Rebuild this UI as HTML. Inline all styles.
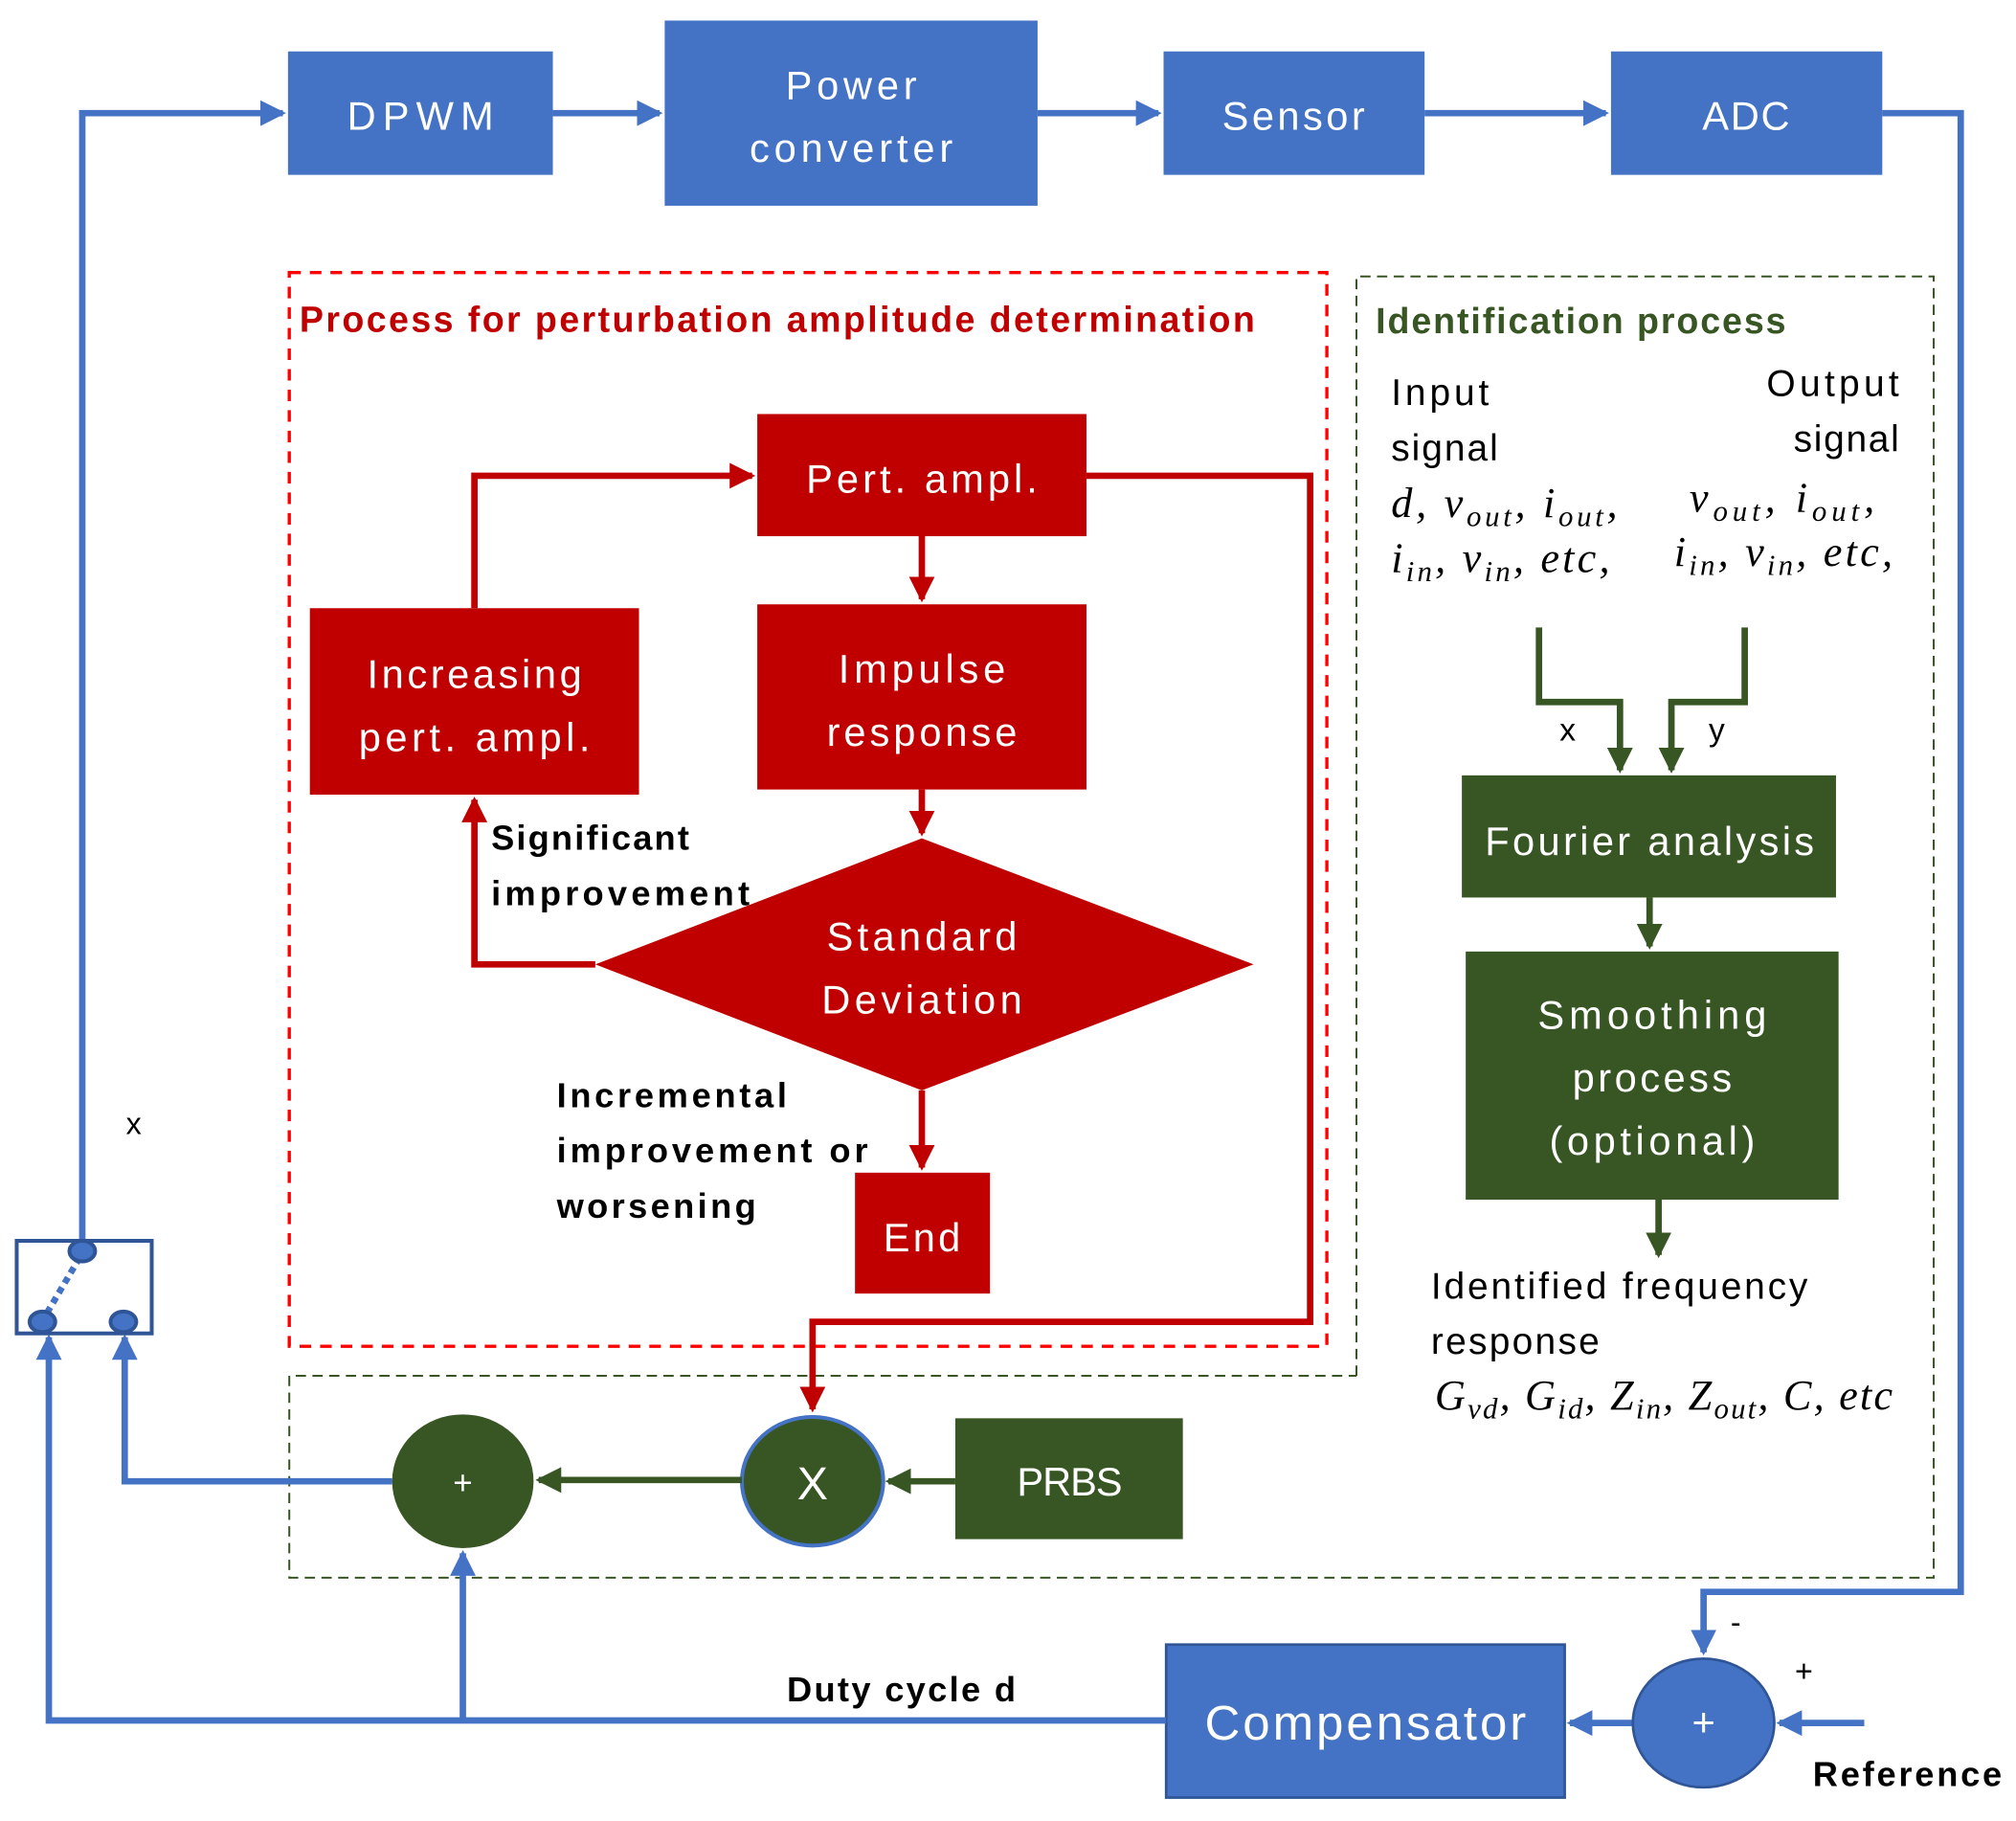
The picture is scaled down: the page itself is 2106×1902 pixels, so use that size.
<!DOCTYPE html>
<html><head><meta charset="utf-8"><style>
html,body{margin:0;padding:0;background:#fff}
svg{display:block}
text{font-family:"Liberation Sans",sans-serif}
.w{fill:#fff;font-size:31px}
.m{font-family:"Liberation Serif",serif;font-style:italic;font-size:33px;fill:#000}
.b{font-weight:bold;font-size:27px;fill:#000}
</style></head><body>
<svg width="2106" height="1902" viewBox="0 0 1568 1416.2" preserveAspectRatio="none" xmlns="http://www.w3.org/2000/svg">
<defs>
<marker id="ab" markerWidth="4" markerHeight="4" refX="3.5" refY="2" orient="auto" markerUnits="strokeWidth"><path d="M0,0L4,2L0,4z" fill="#4472C4"/></marker>
<marker id="ar" markerWidth="4" markerHeight="4" refX="3.5" refY="2" orient="auto" markerUnits="strokeWidth"><path d="M0,0L4,2L0,4z" fill="#C00000"/></marker>
<marker id="ag" markerWidth="4" markerHeight="4" refX="3.5" refY="2" orient="auto" markerUnits="strokeWidth"><path d="M0,0L4,2L0,4z" fill="#375623"/></marker>
</defs>
<rect x="225" y="212" width="807" height="835" fill="none" stroke="#FF0000" stroke-width="2.5" stroke-dasharray="9,7"/>
<path d="M1055,1070V215H1504V1227H225V1070H1055" fill="none" stroke="#375623" stroke-width="1.5" stroke-dasharray="8,5"/>
<g fill="#4472C4">
<rect x="224" y="40" width="206" height="96"/>
<rect x="517" y="16" width="290" height="144"/>
<rect x="905" y="40" width="203" height="96"/>
<rect x="1253" y="40" width="211" height="96"/>
<rect x="907" y="1279" width="310" height="119" stroke="#2F5597" stroke-width="2"/>
</g>
<g class="w" text-anchor="middle">
<text x="327" y="101" textLength="114">DPWM</text>
<text x="662" y="77" textLength="102">Power</text>
<text x="662" y="126" textLength="158">converter</text>
<text x="1006" y="101" textLength="111">Sensor</text>
<text x="1358" y="101" textLength="68">ADC</text>
<text x="1062" y="1353" font-size="38" textLength="250">Compensator</text>
</g>
<g fill="none" stroke="#4472C4" stroke-width="5">
<path d="M64,968V88H220" marker-end="url(#ab)"/>
<path d="M430,88H513" marker-end="url(#ab)"/>
<path d="M807,88H901" marker-end="url(#ab)"/>
<path d="M1108,88H1249" marker-end="url(#ab)"/>
<path d="M1464,88H1525V1238H1325V1285" marker-end="url(#ab)"/>
<path d="M1450,1340H1384" marker-end="url(#ab)"/>
<path d="M1270,1340H1221" marker-end="url(#ab)"/>
<path d="M907,1338H38V1040" marker-end="url(#ab)"/>
<path d="M360,1338V1208" marker-end="url(#ab)"/>
<path d="M305,1152H97V1040" marker-end="url(#ab)"/>
</g>
<rect x="13" y="965" width="105" height="72" fill="none" stroke="#2F5597" stroke-width="3"/>
<line x1="62" y1="978" x2="36" y2="1022" stroke="#4472C4" stroke-width="5" stroke-dasharray="5,4"/>
<g fill="#4472C4" stroke="#2F5597" stroke-width="3">
<ellipse cx="64" cy="973" rx="10" ry="8"/><ellipse cx="33" cy="1028" rx="10" ry="8"/><ellipse cx="96" cy="1028" rx="10" ry="8"/>
</g>
<text x="98" y="882" font-size="24">x</text>
<ellipse cx="1325" cy="1340" rx="55" ry="50" fill="#4472C4" stroke="#2F5597" stroke-width="2"/>
<text x="1325" y="1350" class="w" text-anchor="middle" font-size="26">+</text>
<text x="1346" y="1270" font-size="24">-</text>
<text x="1396" y="1308" font-size="24">+</text>
<text x="1410" y="1389" class="b" textLength="147">Reference</text>
<text x="612" y="1323" class="b" textLength="178">Duty cycle d</text>
<text x="233" y="258" font-size="28" font-weight="bold" fill="#C00000" textLength="743">Process for perturbation amplitude determination</text>
<g fill="#C00000">
<rect x="589" y="322" width="256" height="95"/>
<rect x="589" y="470" width="256" height="144"/>
<rect x="241" y="473" width="256" height="145"/>
<polygon points="463,750 717,652 975,750 717,848"/>
<rect x="665" y="912" width="105" height="94"/>
</g>
<g class="w" text-anchor="middle">
<text x="717" y="383" textLength="180">Pert. ampl.</text>
<text x="717" y="531" textLength="130">Impulse</text>
<text x="717" y="580" textLength="148">response</text>
<text x="369" y="535" textLength="167">Increasing</text>
<text x="369" y="584" textLength="180">pert. ampl.</text>
<text x="717" y="739" textLength="148">Standard</text>
<text x="717" y="788" textLength="156">Deviation</text>
<text x="717" y="973" textLength="60">End</text>
</g>
<g fill="none" stroke="#C00000" stroke-width="5">
<path d="M369,473V370H585" marker-end="url(#ar)"/>
<path d="M717,417V466" marker-end="url(#ar)"/>
<path d="M717,614V648" marker-end="url(#ar)"/>
<path d="M463,750H369V622" marker-end="url(#ar)"/>
<path d="M717,848V908" marker-end="url(#ar)"/>
<path d="M845,370H1019V1028H632V1096" marker-end="url(#ar)"/>
</g>
<text x="382" y="661" class="b" textLength="154">Significant</text>
<text x="382" y="704" class="b" textLength="201">improvement</text>
<text x="433" y="861" class="b" textLength="179">Incremental</text>
<text x="433" y="904" class="b" textLength="242">improvement or</text>
<text x="433" y="947" class="b" textLength="155">worsening</text>
<text x="1070" y="259" font-size="28" font-weight="bold" fill="#375623" textLength="319">Identification process</text>
<g font-size="29">
<text x="1082" y="315" textLength="76">Input</text>
<text x="1082" y="358" textLength="83">signal</text>
<text x="1477" y="308" text-anchor="end" textLength="103">Output</text>
<text x="1477" y="351" text-anchor="end" textLength="82">signal</text>
</g>
<text x="1082" y="402" class="m" textLength="176">d, v<tspan font-size="23" dy="7">out</tspan><tspan dy="-7">, i</tspan><tspan font-size="23" dy="7">out</tspan><tspan dy="-7">,</tspan></text>
<text x="1082" y="445" class="m" textLength="170">i<tspan font-size="23" dy="7">in</tspan><tspan dy="-7">, v</tspan><tspan font-size="23" dy="7">in</tspan><tspan dy="-7">, etc,</tspan></text>
<text x="1314" y="398" class="m" textLength="144">v<tspan font-size="23" dy="7">out</tspan><tspan dy="-7">, i</tspan><tspan font-size="23" dy="7">out</tspan><tspan dy="-7">,</tspan></text>
<text x="1302" y="440" class="m" textLength="170">i<tspan font-size="23" dy="7">in</tspan><tspan dy="-7">, v</tspan><tspan font-size="23" dy="7">in</tspan><tspan dy="-7">, etc,</tspan></text>
<g fill="#375623">
<rect x="1137" y="603" width="291" height="95"/>
<rect x="1140" y="740" width="290" height="193"/>
<rect x="743" y="1103" width="177" height="94"/>
<ellipse cx="360" cy="1152" rx="55" ry="52"/>
<ellipse cx="632" cy="1152" rx="55" ry="50" stroke="#4472C4" stroke-width="3"/>
</g>
<g class="w" text-anchor="middle">
<text x="1283" y="665" textLength="256">Fourier analysis</text>
<text x="1285" y="800" textLength="178">Smoothing</text>
<text x="1285" y="849" textLength="124">process</text>
<text x="1285" y="898" textLength="160">(optional)</text>
<text x="832" y="1163" textLength="82">PRBS</text>
<text x="632" y="1166" font-size="36">X</text>
<text x="360" y="1162" font-size="26">+</text>
</g>
<g fill="none" stroke="#375623" stroke-width="5">
<path d="M1197,488V546H1260V599" marker-end="url(#ag)"/>
<path d="M1357,488V546H1300V599" marker-end="url(#ag)"/>
<path d="M1283,698V736" marker-end="url(#ag)"/>
<path d="M1290,933V976" marker-end="url(#ag)"/>
<path d="M743,1152H691" marker-end="url(#ag)"/>
<path d="M577,1151H419" marker-end="url(#ag)"/>
</g>
<text x="1213" y="576" font-size="25">x</text>
<text x="1329" y="576" font-size="25">y</text>
<text x="1113" y="1010" font-size="29" textLength="293">Identified frequency</text>
<text x="1113" y="1053" font-size="29" textLength="131">response</text>
<text x="1116" y="1096" class="m" textLength="356">G<tspan font-size="23" dy="7">vd</tspan><tspan dy="-7">, G</tspan><tspan font-size="23" dy="7">id</tspan><tspan dy="-7">, Z</tspan><tspan font-size="23" dy="7">in</tspan><tspan dy="-7">, Z</tspan><tspan font-size="23" dy="7">out</tspan><tspan dy="-7">, C, etc</tspan></text>
</svg>
</body></html>
